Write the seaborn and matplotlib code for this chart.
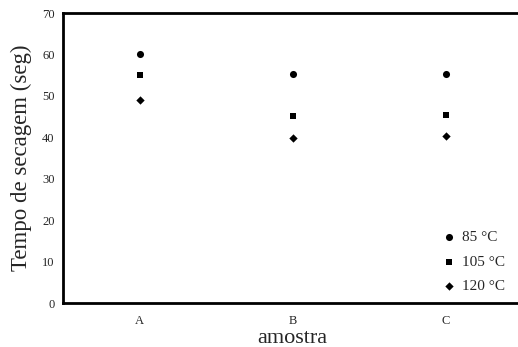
import matplotlib
matplotlib.use("Agg")
import matplotlib.pyplot as plt
import seaborn as sns
import pandas as pd

# Drying time per sample at three temperatures
amostras = ["A", "B", "C"]
temperaturas = ["85 °C", "105 °C", "120 °C"]
tempo_85 = [60.2, 55.3, 55.3]
tempo_105 = [55.0, 45.1, 45.4]
tempo_120 = [49.0, 39.8, 40.3]
y_ticks = [0, 10, 20, 30, 40, 50, 60, 70]

df = pd.DataFrame({
    "amostra": amostras * 3,
    "tempo": tempo_85 + tempo_105 + tempo_120,
    "temperatura": [t for t in temperaturas for _ in amostras],
})
df["pos"] = df["amostra"].map({a: i for i, a in enumerate(amostras)})

sns.set_style("white")
plt.rcParams["font.family"] = ["Liberation Serif", "DejaVu Serif"]

fig = plt.figure(figsize=(5.18, 3.47), dpi=100)
ax = fig.add_axes([63 / 518, 1 - 303 / 347, (522 - 63) / 518, (303 - 13) / 347])

markers = {"85 °C": "o", "105 °C": "s", "120 °C": "D"}
sizes = {"85 °C": 26, "105 °C": 20, "120 °C": 18}
for t in temperaturas:
    sub = df[df["temperatura"] == t]
    sns.scatterplot(data=sub, x="pos", y="tempo", marker=markers[t],
                    s=sizes[t], color="black", edgecolor="black",
                    linewidth=0, ax=ax, label=t)

ax.set_xlim(-0.5, 2.5)
ax.set_ylim(0, 70)
ax.set_xticks(range(len(amostras)))
ax.set_xticklabels(amostras)
ax.set_yticks(y_ticks)
ax.tick_params(axis="both", length=0, labelsize=9)
ax.tick_params(axis="y", pad=6)
ax.tick_params(axis="x", pad=9)
ax.set_xlabel("amostra", fontsize=16, labelpad=1)
ax.set_ylabel("Tempo de secagem (seg)", fontsize=16.5, labelpad=7)

for side in ["left", "bottom", "top"]:
    ax.spines[side].set_visible(True)
    ax.spines[side].set_linewidth(2)
    ax.spines[side].set_color("black")
ax.spines["right"].set_visible(False)

leg = ax.legend(loc="lower left", bbox_to_anchor=(0.80, 0.0), frameon=False,
                fontsize=11, handletextpad=0.2, labelspacing=0.7,
                handlelength=1.2, borderaxespad=0.25)

fig.savefig("out.png", dpi=100)
